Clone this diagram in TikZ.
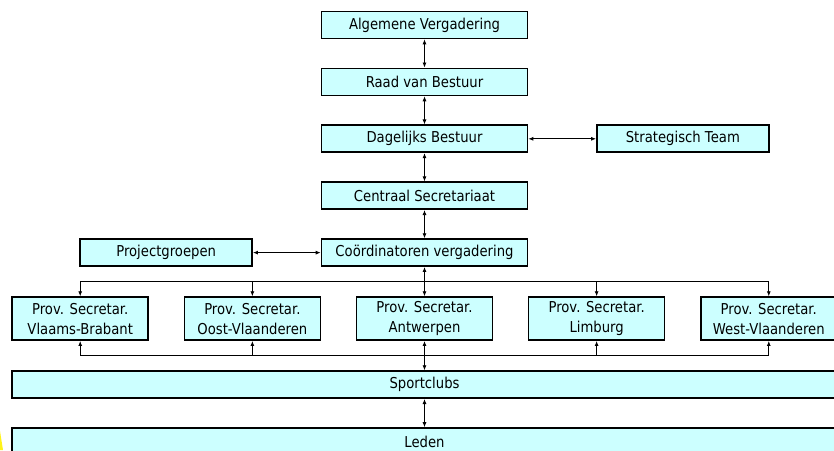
\documentclass[tikz,border=0pt]{standalone}
\usepackage{fontspec}
\setmainfont{DejaVu Sans}[FakeStretch=0.88]
\usepackage{tikz}
\usetikzlibrary{positioning, calc, arrows.meta}
\definecolor{BoxFill}{HTML}{CCFFFF}
\tikzstyle{Org_Main} = [rectangle, 
                        minimum width=206pt, 
                        minimum height=27pt,
                        text centered, 
                        draw=black, 
                        line width=1.7pt,
                        fill=BoxFill,
                        font=\fontsize{15pt}{20pt}\selectfont]
\tikzstyle{Org_Side} = [Org_Main, 
                        minimum width=172pt]
\tikzstyle{Org_Prov} = [Org_Main, 
                        minimum width=136pt, 
                        minimum height=43pt,
                        align=center]
\tikzstyle{Org_Wide} = [Org_Main, 
                        minimum width=825pt]
\tikzstyle{Link} = [line width=0.8pt, 
                    {Latex[length=5pt,width=4pt]}-{Latex[length=5pt,width=4pt]}]
\tikzstyle{Down} = [line width=0.8pt, 
                    -{Latex[length=5pt,width=4pt]}]
\tikzstyle{Bus} = [line width=0.8pt]

\begin{document}
\begin{tikzpicture}
        \useasboundingbox (-424.5pt,25pt) rectangle (409.5pt,-425pt);
        \fill [yellow!90] (-424.5pt,-406pt) -- (-421.5pt,-425pt) -- (-424.5pt,-425pt) -- cycle;

        \node (AV) [Org_Main] {Algemene Vergadering};
        \node (RvB) [Org_Main, below of=AV, yshift=-1cm] {Raad van Bestuur};
        \node (DB) [Org_Main, below of=RvB, yshift=-1cm] {Dagelijks Bestuur};
        \node (ST) [Org_Side, right of=DB, xshift=8.08cm] {Strategisch Team};
        \node (CS) [Org_Main, below of=DB, yshift=-1cm] {Centraal Secretariaat};
        \node (CV) [Org_Main, below of=CS, yshift=-1cm] {Coördinatoren vergadering};
        \node (PG) [Org_Side, left of=CV, xshift=-8.08cm] {Projectgroepen};

        \node (P3) [Org_Prov, below of=CV, yshift=-1.32cm] {Prov. Secretar.\\Antwerpen};
        \node (P2) [Org_Prov, left of=P3, xshift=-5.05cm] {Prov. Secretar.\\Oost-Vlaanderen};
        \node (P1) [Org_Prov, left of=P2, xshift=-5.05cm] {Prov. Secretar.\\Vlaams-Brabant};
        \node (P4) [Org_Prov, right of=P3, xshift=5.05cm] {Prov. Secretar.\\Limburg};
        \node (P5) [Org_Prov, right of=P4, xshift=5.05cm] {Prov. Secretar.\\West-Vlaanderen};

        \node (SC) [Org_Wide, below of=P3, yshift=-1.32cm] {Sportclubs};
        \node (LD) [Org_Wide, below of=SC, yshift=-1cm] {Leden};

        \coordinate (BusTop) at ($(CV.south)!0.5!(P3.north)$);
        \coordinate (BusBot) at ($(P3.south)!0.5!(SC.north)$);

        \draw [Link] (AV) -- (RvB);
        \draw [Link] (RvB) -- (DB);
        \draw [Link] (DB) -- (ST);
        \draw [Link] (DB) -- (CS);
        \draw [Link] (CS) -- (CV);
        \draw [Link] (PG) -- (CV);
        \draw [Link] (CV) -- (P3);
        \draw [Link] (P3) -- (SC);
        \draw [Link] (SC) -- (LD);

        \draw [Bus] (P1 |- BusTop) -- (P5 |- BusTop);
        \draw [Bus] (P1 |- BusBot) -- (P5 |- BusBot);
        \foreach \p in {P1, P2, P4, P5} {
            \draw [Down] (\p |- BusTop) -- (\p);
            \draw [Down] (\p |- BusBot) -- (\p);
        }
    \end{tikzpicture}
\end{document}
